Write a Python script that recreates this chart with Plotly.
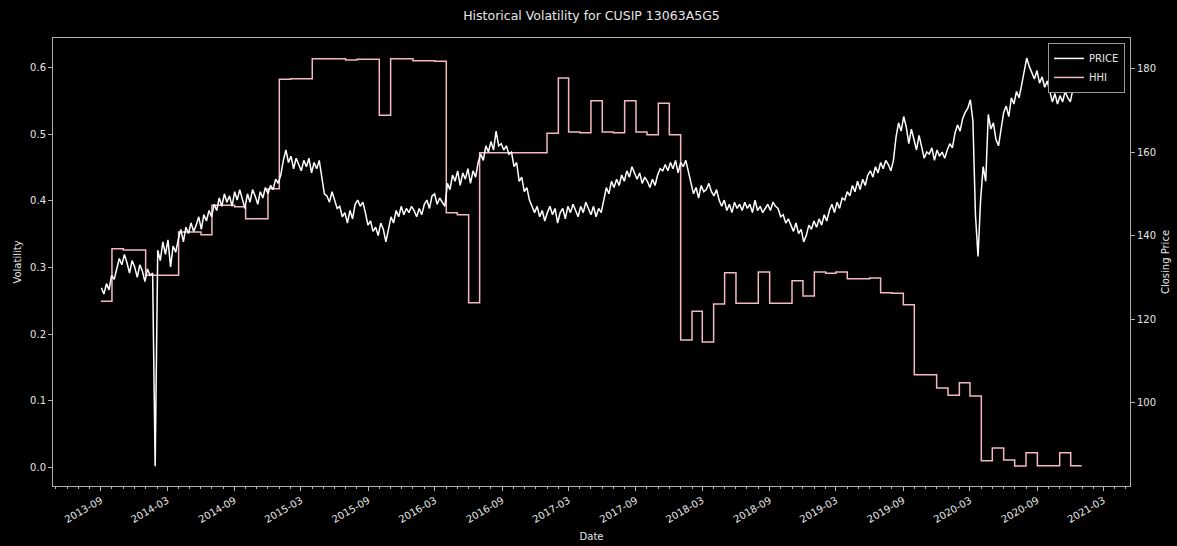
import pandas as pd
import plotly.graph_objects as go

# ---------------- data ----------------
price_start = "2013-09-02"
price_values = [
    127.5, 126.0, 128.5, 127.0, 130.5, 129.5, 132.0, 134.5, 133.0, 135.5,
    133.5, 131.0, 134.0, 132.5, 130.0, 133.0, 131.5, 129.0, 132.0, 130.5,
    131.0, 84.8, 136.5, 134.0, 138.5, 135.5, 139.0, 132.5, 137.5, 136.0,
    139.0, 141.5, 138.5, 142.0, 140.5, 143.0, 141.0, 142.5, 144.5, 141.5,
    145.0, 143.5, 146.0, 144.5, 147.5, 146.0, 149.0, 147.0, 150.0, 148.0,
    149.5, 147.0, 150.5, 148.5, 151.0, 149.0, 146.5, 150.0, 148.0, 151.0,
    149.5, 147.5, 150.5, 149.0, 151.5, 150.0, 152.0, 151.0, 153.5, 152.5,
    154.5, 158.0, 160.5, 157.5, 159.0, 156.0, 158.5, 157.0, 155.5, 158.0,
    156.5, 158.5, 155.0, 157.5, 156.0, 158.0, 154.0, 150.0, 149.5, 148.0,
    150.5, 148.5, 146.5, 147.0, 144.5, 145.5, 143.0, 146.0, 144.0, 147.5,
    148.5, 147.0, 148.0, 145.5, 142.5, 143.5, 141.0, 142.0, 140.0, 143.0,
    141.5, 138.5, 142.0, 144.5, 143.0, 146.0, 144.5, 147.0, 145.0, 146.5,
    145.5, 147.0, 146.0, 144.5, 146.5, 145.0, 147.5, 148.5, 146.5, 149.5,
    150.0, 147.5, 149.0, 148.0, 147.0, 152.5, 151.0, 154.5, 153.0, 155.5,
    152.0, 155.0, 153.5, 156.0, 152.5, 155.5, 154.0, 157.5, 159.5, 158.0,
    161.5, 160.0, 162.5, 160.5, 165.0, 161.5, 162.0, 160.5, 161.5, 159.5,
    160.0, 156.5, 157.5, 153.0, 154.0, 150.5, 151.5, 148.5, 147.0, 145.5,
    147.0, 144.5, 146.0, 143.5, 145.5, 147.0, 145.0, 146.5, 143.0, 145.5,
    146.5, 144.0, 147.0, 145.5, 147.5, 146.0, 144.5, 147.0, 145.5, 148.0,
    146.5, 145.0, 147.0, 144.5, 146.5, 145.5, 148.5, 151.5, 150.0, 153.0,
    151.5, 153.5, 152.0, 154.5, 153.0, 155.5, 154.0, 156.5, 155.0, 153.5,
    155.0, 152.5, 154.0, 153.0, 151.5, 153.5, 152.0, 154.5, 156.0, 155.5,
    157.0, 155.5, 157.5, 156.0, 158.0, 155.0, 157.5, 156.5, 158.0, 155.5,
    153.0, 150.0, 151.5, 149.0, 152.0, 150.5, 151.0, 152.5, 150.5, 149.5,
    151.0, 148.5, 147.0, 148.5, 146.0, 147.5, 145.5, 148.0, 146.5, 147.5,
    146.0, 148.0, 146.5, 147.5, 145.5, 148.5, 146.0, 147.0, 145.5, 146.5,
    147.5, 146.0, 148.0, 147.0, 146.5, 144.5, 145.0, 143.0, 144.0, 142.5,
    141.0, 143.0, 140.5, 141.5, 138.5, 140.0, 142.5, 141.5, 143.5, 142.0,
    144.0, 142.5, 145.0, 143.5, 146.0, 147.5, 145.5, 148.0, 146.5, 149.0,
    148.5, 150.5, 149.5, 152.0, 150.5, 153.0, 151.0, 153.5, 152.0, 154.5,
    155.5, 154.0, 156.5, 155.0, 157.5, 156.0, 158.0, 157.0, 155.5, 158.0,
    163.5, 167.0, 165.0, 168.5, 166.0, 162.0, 165.5, 163.0, 160.5, 164.0,
    161.0, 158.5, 160.0, 159.5, 161.0, 158.0, 160.5, 159.0, 160.0, 158.5,
    160.5, 162.0, 161.0, 164.5, 166.5, 165.0, 168.0, 169.5, 170.5, 172.5,
    167.5, 145.0, 135.0, 148.5, 156.5, 153.0, 169.0, 165.5, 167.0, 163.0,
    161.5, 166.0, 169.5, 171.0, 168.5, 173.0, 171.5, 174.5, 173.0, 176.0,
    179.0, 182.5, 180.5, 179.0, 177.5, 179.5, 176.5, 178.0, 175.5, 177.0,
    174.5, 172.0, 174.0, 171.5, 173.5, 172.0, 174.5, 173.0, 172.0, 175.0,
    178.0, 174.5, 176.0,
]
price_dates = pd.date_range(price_start, periods=len(price_values), freq="7D")

hhi_dates = [
    "2013-09-01", "2013-10-01", "2013-11-01", "2014-01-01", "2014-04-01",
    "2014-06-01", "2014-07-01", "2014-09-01", "2014-10-01", "2014-12-01",
    "2015-01-01", "2015-02-01", "2015-04-01", "2015-07-01", "2015-08-01",
    "2015-10-01", "2015-11-01", "2016-01-01", "2016-03-01", "2016-04-01",
    "2016-05-01", "2016-06-01", "2016-07-01", "2017-01-01", "2017-02-01",
    "2017-03-01", "2017-04-01", "2017-05-01", "2017-06-01", "2017-07-01",
    "2017-08-01", "2017-09-01", "2017-10-01", "2017-11-01", "2017-12-01",
    "2018-01-01", "2018-02-01", "2018-03-01", "2018-04-01", "2018-05-01",
    "2018-06-01", "2018-07-01", "2018-08-01", "2018-09-01", "2018-11-01",
    "2018-12-01", "2019-01-01", "2019-02-01", "2019-03-01", "2019-04-01",
    "2019-06-01", "2019-07-01", "2019-08-01", "2019-09-01", "2019-10-01",
    "2019-12-01", "2020-01-01", "2020-02-01", "2020-03-01", "2020-04-01",
    "2020-05-01", "2020-06-01", "2020-07-01", "2020-08-01", "2020-09-01",
    "2020-11-01", "2020-12-01", "2020-12-31",
]
hhi_values = [
    0.249, 0.328, 0.326, 0.288, 0.353,
    0.349, 0.393, 0.391, 0.373, 0.418,
    0.582, 0.583, 0.613, 0.611, 0.612,
    0.528, 0.613, 0.610, 0.609, 0.382,
    0.379, 0.247, 0.472, 0.501, 0.584,
    0.503, 0.502, 0.550, 0.503, 0.502,
    0.550, 0.503, 0.499, 0.546, 0.499,
    0.191, 0.234, 0.188, 0.245, 0.292,
    0.246, 0.246, 0.293, 0.246, 0.280,
    0.257, 0.293, 0.291, 0.293, 0.283,
    0.284, 0.262, 0.261, 0.244, 0.139,
    0.119, 0.108, 0.127, 0.107, 0.010,
    0.029, 0.011, 0.002, 0.022, 0.0024,
    0.022, 0.0024, 0.0024,
]

title_text = "Historical Volatility for CUSIP 13063A5G5"
left_ticks = [0.0, 0.1, 0.2, 0.3, 0.4, 0.5, 0.6]
right_ticks = [100, 120, 140, 160, 180]

# ---------------- figure ----------------
FONT = "DejaVu Sans"
TXT = "#e6e6e6"
SPINE = "#b0b0b0"

fig = go.Figure()
fig.add_trace(go.Scatter(
    x=price_dates, y=price_values, name="PRICE", mode="lines",
    line=dict(color="white", width=1.5), yaxis="y2",
))
fig.add_trace(go.Scatter(
    x=hhi_dates, y=hhi_values, name="HHI", mode="lines",
    line=dict(color="#f4b8c2", width=1.5, shape="hv"), yaxis="y",
))

fig.update_layout(
    width=1177, height=546,
    paper_bgcolor="black", plot_bgcolor="black",
    margin=dict(l=53, r=47, t=38, b=60, autoexpand=False),
    font=dict(family=FONT, size=10, color=TXT),
    title=dict(text=title_text, x=0.5, xref="paper", xanchor="center",
               y=1 - 16 / 546, yref="container", yanchor="middle",
               font=dict(size=12.5, color=TXT)),
    showlegend=True,
    legend=dict(x=0.9954, xanchor="right", y=0.989, yanchor="top",
                bgcolor="black", bordercolor="#999999", borderwidth=1,
                font=dict(size=10, color=TXT), tracegroupgap=0,
                itemwidth=30),
    xaxis=dict(
        type="date", automargin=False,
        range=["2013-04-23", "2021-05-12"],
        dtick="M6", tick0="2013-09-01", tickformat="%Y-%m",
        tickangle=-30, ticks="outside", ticklen=4, tickwidth=1,
        tickcolor=SPINE, showgrid=False, zeroline=False,
        showline=True, linecolor=SPINE, linewidth=1, mirror=True,
        minor=dict(dtick="M1", tick0="2013-09-01", ticks="outside",
                   ticklen=2, tickcolor=SPINE, showgrid=False),
        title=dict(text="Date", font=dict(size=10, color=TXT), standoff=9),
        tickfont=dict(size=10, color=TXT),
    ),
    yaxis=dict(
        automargin=False,
        range=[-0.028, 0.644], tickvals=left_ticks, tickformat=".1f",
        ticks="outside", ticklen=4, tickcolor=SPINE, showgrid=False,
        zeroline=False, showline=True, linecolor=SPINE, linewidth=1,
        title=dict(text="Volatility", font=dict(size=10, color=TXT), standoff=6),
        tickfont=dict(size=10, color=TXT),
    ),
    yaxis2=dict(
        automargin=False,
        range=[80.05, 187.3], tickvals=right_ticks, overlaying="y", side="right",
        ticks="outside", ticklen=4, tickcolor=SPINE, showgrid=False,
        zeroline=False, showline=True, linecolor=SPINE, linewidth=1,
        title=dict(text="Closing Price", font=dict(size=10, color=TXT), standoff=6),
        tickfont=dict(size=10, color=TXT),
    ),
)

fig.write_html(
    "out.html",
    config={"displayModeBar": False},
    post_script="document.body.style.margin='0px';document.body.style.background='black';",
)
